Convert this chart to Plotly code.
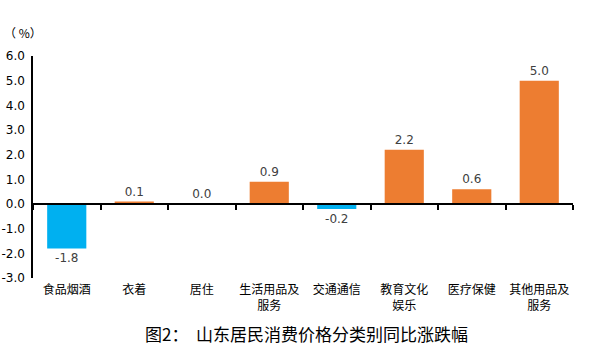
import plotly.graph_objects as go

categories = ["食品烟酒", "衣着", "居住", "生活用品及<br>服务", "交通通信", "教育文化<br>娱乐", "医疗保健", "其他用品及<br>服务"]
values = [-1.8, 0.1, 0.0, 0.9, -0.2, 2.2, 0.6, 5.0]
y_ticks = [6, 5, 4, 3, 2, 1, 0, -1, -2, -3]
title_text = "图2：  山东居民消费价格分类别同比涨跌幅"

colors = ["#00B0F0" if v < 0 else "#ED7D31" for v in values]
labels = [f"{v:.1f}" for v in values]

fig = go.Figure()
fig.add_trace(go.Bar(
    x=categories, y=values, marker_color=colors, marker_line_width=0,
    text=labels, textposition="outside", cliponaxis=False,
    textfont=dict(family="DejaVu Sans", size=12, color="#404040"),
    hoverinfo="skip",
))
# invisible trace for the zero-line axis
fig.add_trace(go.Scatter(x=categories, y=[0]*len(categories), xaxis="x2", yaxis="y",
                         mode="markers", marker=dict(opacity=0), hoverinfo="skip", showlegend=False))

fig.update_layout(
    width=610, height=351,
    margin=dict(l=33, r=37, t=56, b=73, autoexpand=False),
    plot_bgcolor="white", paper_bgcolor="white",
    showlegend=False,
    bargap=0.42,
    xaxis=dict(
        type="category", categoryorder="array", categoryarray=categories,
        range=[-0.5, len(categories) - 0.5], automargin=False,
        showline=False, ticks="", showgrid=False, zeroline=False,
        tickfont=dict(family="Noto Sans CJK SC", size=12, color="#000000"),
        ticklabelstandoff=3,
    ),
    xaxis2=dict(
        type="category", categoryorder="array", categoryarray=categories,
        range=[-0.5, len(categories) - 0.5], automargin=False,
        overlaying="x", anchor="free", position=1/3,
        showline=True, linecolor="#000000", linewidth=1.5,
        ticks="outside", tickson="boundaries", ticklen=5, tickcolor="#000000", tickwidth=1.5,
        showticklabels=False, showgrid=False, zeroline=False,
    ),
    yaxis=dict(
        range=[-3, 6], tickvals=y_ticks, ticktext=[f"{v:.1f}" for v in y_ticks],
        showline=True, linecolor="#000000", linewidth=1.5, ticks="",
        showgrid=False, zeroline=False, automargin=False,
        tickfont=dict(family="DejaVu Sans", size=12, color="#000000"),
        ticklabelstandoff=4,
    ),
    annotations=[
        dict(text="（ %）", x=0, y=0, xref="paper", yref="paper", showarrow=False,
             xanchor="left", yanchor="middle",
             font=dict(family="Noto Sans CJK SC", size=12, color="#000000")),
        dict(text=title_text, x=0.5, y=0, xref="paper", yref="paper", showarrow=False,
             xanchor="center", yanchor="middle",
             font=dict(family="Noto Sans CJK SC", size=17, color="#000000")),
    ],
)

# convert annotation pixel positions to paper coordinates
plot_h = 351 - 56 - 73
plot_w = 610 - 33 - 37
anns = list(fig.layout.annotations)
anns[0].x = (2 - 33) / plot_w
anns[0].y = (351 - 73 - 32) / plot_h
anns[1].x = (306 - 33) / plot_w
anns[1].y = (351 - 73 - 333) / plot_h
fig.layout.annotations = anns

fig.write_html("out.html")
